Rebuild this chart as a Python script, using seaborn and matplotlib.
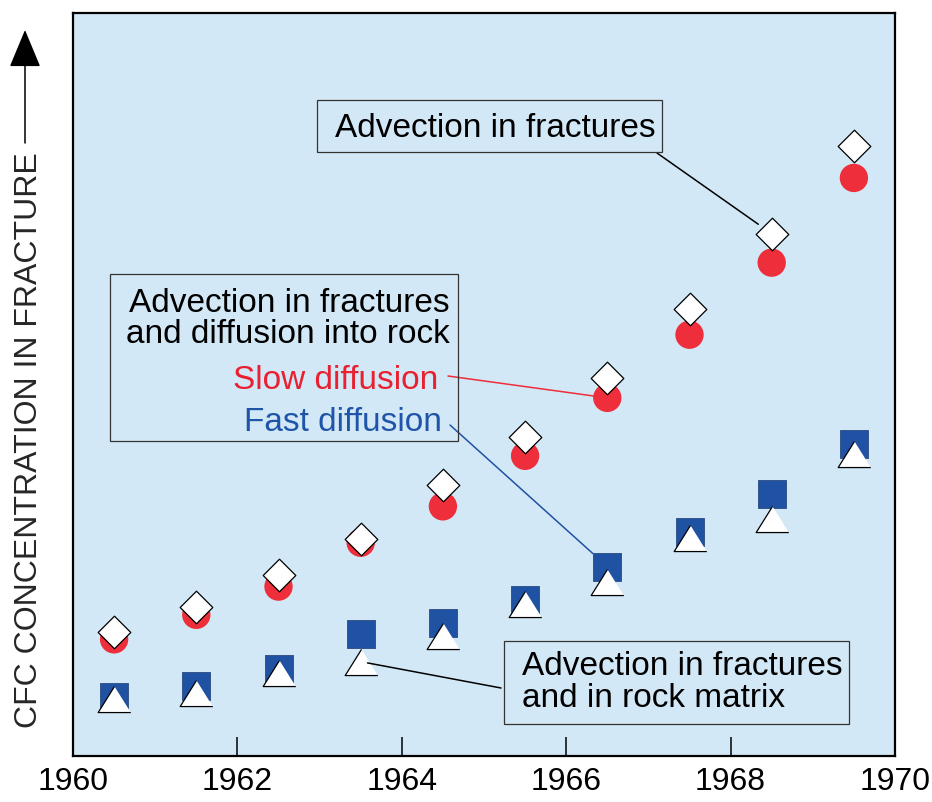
import matplotlib
matplotlib.use("Agg")
import matplotlib.pyplot as plt
import seaborn as sns
import pandas as pd
from matplotlib.patches import Rectangle

# values (relative concentration, axis 0-100)
years = [1960.5, 1961.5, 1962.5, 1963.5, 1964.5, 1965.5, 1966.5, 1967.5, 1968.5, 1969.5]
advection = [16.7, 20.0, 24.4, 29.2, 36.5, 42.9, 50.9, 60.1, 70.3, 82.1]
slow_diff = [15.7, 19.0, 22.8, 28.7, 33.6, 40.4, 48.2, 56.7, 66.4, 77.8]
fast_diff = [7.9, 9.4, 11.7, 16.4, 17.9, 21.0, 25.5, 30.1, 35.3, 42.0]
rock_matrix = [7.7, 8.5, 11.2, 12.7, 16.2, 20.5, 23.4, 29.4, 31.9, 40.6]
xticks = [1960, 1962, 1964, 1966, 1968, 1970]

BG = "#D3E8F6"
RED = "#EE2E3B"
BLUE = "#1F52A3"
FS = 23
FS_BOX = 24

sns.set_style("ticks")
plt.rcParams["font.family"] = ["Liberation Sans", "DejaVu Sans"]

W, H = 932, 802
fig = plt.figure(figsize=(W / 100, H / 100), dpi=100)
ax = fig.add_axes([73 / W, 1 - 756 / H, (895 - 73) / W, (756 - 13) / H])
ax.set_facecolor(BG)

df = pd.DataFrame({"year": years, "adv": advection, "slow": slow_diff,
                   "fast": fast_diff, "rock": rock_matrix})

# squat triangle marker
tri = [(0, 0.8), (-1, -0.8), (1, -0.8)]

sns.scatterplot(data=df, x="year", y="slow", ax=ax, marker="o", s=20.4 ** 2,
                color=RED, edgecolor="none", linewidth=0)
sns.scatterplot(data=df, x="year", y="adv", ax=ax, marker="D", s=16.6 ** 2,
                color="white", edgecolor="black", linewidth=0.9)
sns.scatterplot(data=df, x="year", y="fast", ax=ax, marker="s", s=20.4 ** 2,
                color=BLUE, edgecolor="#2a4a80", linewidth=0.6)
sns.scatterplot(data=df, x="year", y="rock", ax=ax, marker=tri, s=23.5 ** 2,
                color="white", edgecolor="black", linewidth=0.9)

ax.set_xlim(1960, 1970)
ax.set_ylim(0, 100)
ax.set_xticks(xticks)
ax.set_yticks([])
ax.set_xlabel("")
ax.set_ylabel("")
ax.tick_params(axis="x", direction="in", length=13.7, width=1.1,
               labelsize=FS, pad=8, colors="black")
for s in ax.spines.values():
    s.set_linewidth(1.6)
    s.set_color("black")

# y label with arrow
fig.text(29 / W, 1 - 440 / H, "CFC CONCENTRATION IN FRACTURE", rotation=90,
         ha="center", va="center", fontsize=FS)
ax.annotate("", xy=(25, H - 30), xycoords="figure pixels",
            xytext=(25, H - 143), textcoords="figure pixels",
            arrowprops=dict(arrowstyle="-|>,head_length=0.6,head_width=0.25",
                            mutation_scale=40, color="black", lw=1.1,
                            shrinkA=0, shrinkB=0))


def box(x0, y0, x1, y1):
    fig.add_artist(Rectangle((x0 / W, 1 - y1 / H), (x1 - x0) / W, (y1 - y0) / H,
                             transform=fig.transFigure, fill=False,
                             edgecolor="#333333", linewidth=0.9))


def label(x, y, s, ha="left", color="black"):
    fig.text(x / W, 1 - y / H, s, ha=ha, va="baseline", fontsize=FS_BOX, color=color)


def leader(xy, start, color, shrink):
    ax.annotate("", xy=xy, xycoords="data",
                xytext=(start[0], H - start[1]), textcoords="figure pixels",
                arrowprops=dict(arrowstyle="-", color=color, lw=1.1,
                                shrinkA=0, shrinkB=shrink))


# box 1
box(317, 100, 662, 152)
label(335, 137, "Advection in fractures")
leader((years[8], advection[8]), (657, 153), "black", 11.8)

# box 2
box(110, 274, 458, 441)
label(450, 312, "Advection in fractures", ha="right")
label(450, 343, "and diffusion into rock", ha="right")
label(438, 389, "Slow diffusion", ha="right", color="#E8202F")
label(442, 431, "Fast diffusion", ha="right", color="#1F55A8")
leader((years[6], slow_diff[6]), (448, 376), RED, 9.6)
leader((years[6], fast_diff[6]), (450, 425), BLUE, 14)

# box 3
box(504, 641, 849, 724)
label(522, 675, "Advection in fractures")
label(522, 707, "and in rock matrix")
leader((years[3], rock_matrix[3]), (501, 688), "black", 5)

fig.savefig("out.png", dpi=100)
